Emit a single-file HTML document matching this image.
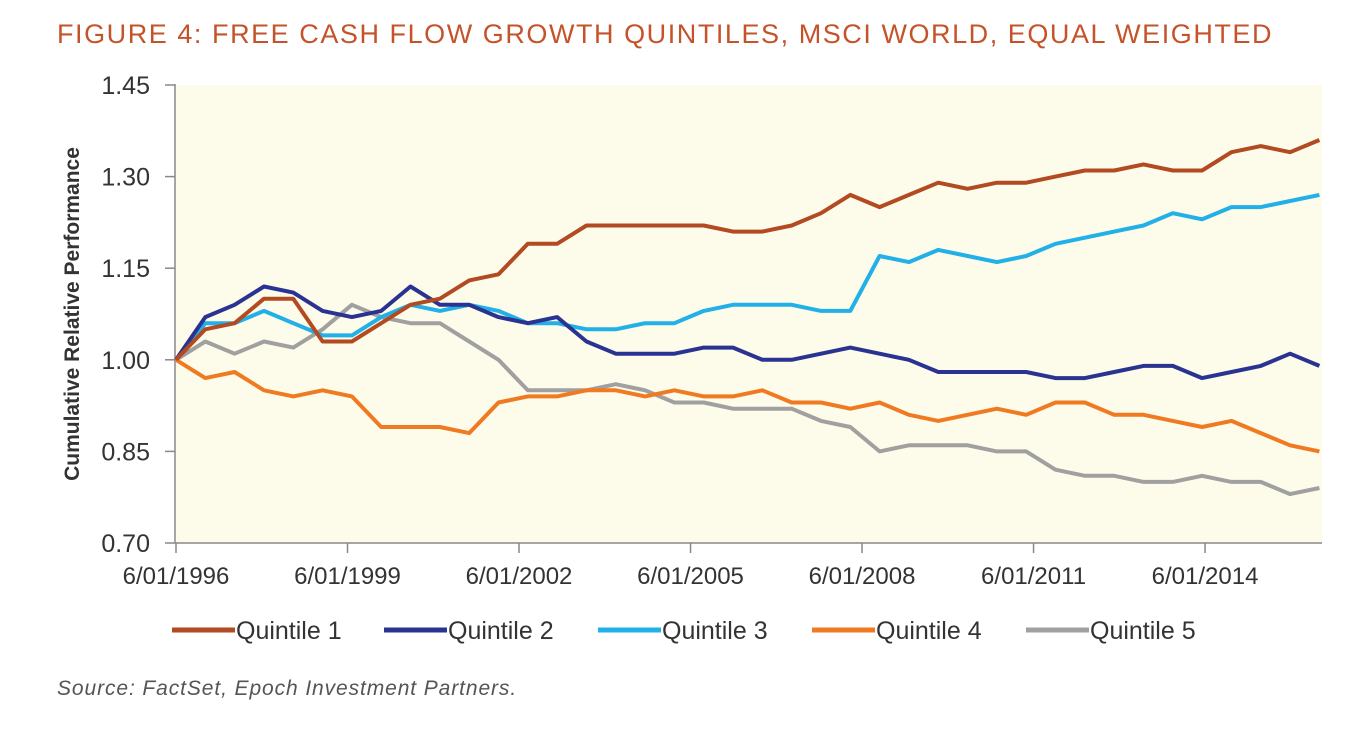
<!DOCTYPE html>
<html><head><meta charset="utf-8"><style>
body{margin:0;background:#fff;width:1364px;height:733px;overflow:hidden;font-family:"Liberation Sans",sans-serif}
#title{position:absolute;left:57px;top:19px;font-size:27px;color:#c5532a;letter-spacing:1.55px;white-space:nowrap}
#src{position:absolute;left:57px;top:677px;font-size:21px;font-style:italic;color:#555;letter-spacing:0.9px}
svg{position:absolute;left:0;top:0}
</style></head><body>
<div id="title">FIGURE 4: FREE CASH FLOW GROWTH QUINTILES, MSCI WORLD, EQUAL WEIGHTED</div>
<svg id="chart" width="1364" height="733"></svg>
<div id="src">Source: FactSet, Epoch Investment Partners.</div>
<script>
const seriesNames=["Quintile 1","Quintile 2","Quintile 3","Quintile 4","Quintile 5"];
const seriesColors=["#b24a22","#2a3391","#22b0e8","#f07a22","#a0a0a0"];
const q1=[1.00,1.05,1.06,1.10,1.10,1.03,1.03,1.06,1.09,1.10,1.13,1.14,1.19,1.19,1.22,1.22,1.22,1.22,1.22,1.21,1.21,1.22,1.24,1.27,1.25,1.27,1.29,1.28,1.29,1.29,1.30,1.31,1.31,1.32,1.31,1.31,1.34,1.35,1.34,1.36];
const q2=[1.00,1.07,1.09,1.12,1.11,1.08,1.07,1.08,1.12,1.09,1.09,1.07,1.06,1.07,1.03,1.01,1.01,1.01,1.02,1.02,1.00,1.00,1.01,1.02,1.01,1.00,0.98,0.98,0.98,0.98,0.97,0.97,0.98,0.99,0.99,0.97,0.98,0.99,1.01,0.99];
const q3=[1.00,1.06,1.06,1.08,1.06,1.04,1.04,1.07,1.09,1.08,1.09,1.08,1.06,1.06,1.05,1.05,1.06,1.06,1.08,1.09,1.09,1.09,1.08,1.08,1.17,1.16,1.18,1.17,1.16,1.17,1.19,1.20,1.21,1.22,1.24,1.23,1.25,1.25,1.26,1.27];
const q4=[1.00,0.97,0.98,0.95,0.94,0.95,0.94,0.89,0.89,0.89,0.88,0.93,0.94,0.94,0.95,0.95,0.94,0.95,0.94,0.94,0.95,0.93,0.93,0.92,0.93,0.91,0.90,0.91,0.92,0.91,0.93,0.93,0.91,0.91,0.90,0.89,0.90,0.88,0.86,0.85];
const q5=[1.00,1.03,1.01,1.03,1.02,1.05,1.09,1.07,1.06,1.06,1.03,1.00,0.95,0.95,0.95,0.96,0.95,0.93,0.93,0.92,0.92,0.92,0.90,0.89,0.85,0.86,0.86,0.86,0.85,0.85,0.82,0.81,0.81,0.80,0.80,0.81,0.80,0.80,0.78,0.79];
const yTicks=[0.70,0.85,1.00,1.15,1.30,1.45];
const xTickLabels=["6/01/1996","6/01/1999","6/01/2002","6/01/2005","6/01/2008","6/01/2011","6/01/2014"];
const xTickYears=[1996.42,1999.42,2002.42,2005.42,2008.42,2011.42,2014.42];
const startYear=1996.42,endYear=2016.42;

const NS="http://www.w3.org/2000/svg";
const svg=document.getElementById('chart');
const L=176,R=1322,T=85,B=543;
const x=t=>L+(t-startYear)*57.17;
const y=v=>B-(v-0.70)/(1.45-0.70)*(B-T);
function mk(tag,attrs){const e=document.createElementNS(NS,tag);for(const k in attrs)e.setAttribute(k,attrs[k]);svg.appendChild(e);return e;}
const bg=mk('rect',{x:L,y:T,width:R-L,height:B-T,fill:'#fdfbe9'});


const ax=mk('line',{x1:L-1,y1:T-1,x2:L-1,y2:B,stroke:'#888','stroke-width':1.5});


const xa=mk('line',{x1:L-1,y1:B,x2:R,y2:B,stroke:'#888','stroke-width':1.5});


yTicks.forEach(v=>{
  const tk=mk('line',{x1:L-11,x2:L-1,y1:y(v),y2:y(v),stroke:'#888','stroke-width':1.5});
  
  
  const t=mk('text',{x:L-26,y:y(v)+9,'text-anchor':'end','font-size':25,fill:'#333'});
  t.textContent=v.toFixed(2);
  
  
});
xTickYears.forEach((yr,i)=>{
  const tk=mk('line',{x1:x(yr),x2:x(yr),y1:B,y2:B+10,stroke:'#888','stroke-width':1.5});
  
  
  const t=mk('text',{x:x(yr),y:B+41,'text-anchor':'middle','font-size':24,fill:'#333'});
  t.textContent=xTickLabels[i];
  
  
});
const yt=mk('text',{x:0,y:0,'text-anchor':'middle','font-size':21,'font-weight':'bold',fill:'#333',transform:'translate(79,314) rotate(-90)'});
yt.textContent='Cumulative Relative Performance';


const all=[q1,q2,q3,q4,q5];
[4,3,2,1,0].forEach(s=>{
  const d=all[s];const n=d.length;
  const pts=d.map((v,i)=>x(startYear+i*(endYear-startYear)/(n-1)).toFixed(1)+','+y(v).toFixed(1)).join(' ');
  const p=mk('polyline',{points:pts,fill:'none',stroke:seriesColors[s],'stroke-width':4,'stroke-linejoin':'round'});
  
  
});
const legX=[172,384,598,812,1026];
seriesNames.forEach((nm,i)=>{
  const l=mk('line',{x1:legX[i],x2:legX[i]+63,y1:630,y2:630,stroke:seriesColors[i],'stroke-width':5});
  
  
  const t=mk('text',{x:legX[i]+64,y:639,'font-size':25,fill:'#333'});
  t.textContent=nm;
  
  
});
</script>
</body></html>
